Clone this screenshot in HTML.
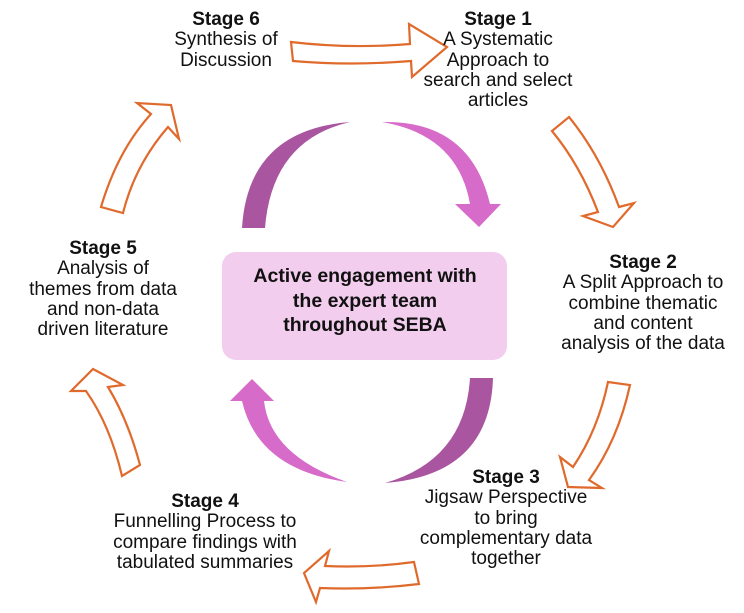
<!DOCTYPE html>
<html><head><style>
body{margin:0;width:744px;height:613px;background:#fff;position:relative;overflow:hidden;font-family:"Liberation Sans",sans-serif;}
.t{position:absolute;text-align:center;font-size:19px;line-height:20.3px;color:#111;white-space:nowrap;transform:translateX(-50%);}
.t b{font-size:19px;}
</style></head><body>
<svg width="744" height="613" style="position:absolute;left:0;top:0">
<g fill="#fff" stroke="#e06a2c" stroke-width="2.2" stroke-linejoin="miter">
<path d="M291,42 Q350,49 410,44 L409,24 L447,47 L412,77 L411,61 Q350,66 293,61 Z"/>
<path d="M552,131 L569,117 Q600,155 619,207 L634,203 L613,227 L583,216 L598,212 Q580,165 552,131 Z"/>
<path d="M608,382 L630,385 Q618,440 589,480 L602,488 L568,487 L560,457 L573,467 Q598,430 608,382 Z"/>
<path d="M414,562 L419,584 Q370,590 320,588 L316,602 L304,573 L329,551 L325,566 Q370,568 414,562 Z"/>
<path d="M93,369 L123,385 L108,387 Q128,420 140,465 L122,476 Q110,425 86,391 L71,391 Z"/>
<path d="M101,207 Q118,150 151,114 L137,103 L171,105 L179,139 L168,127 Q135,165 123,213 Z"/>
</g>
<path d="M242,228 L265,228 Q272,140 350,122 Q248,130 242,228 Z" fill="#a9559f"/>
<path d="M382,122 Q458,135 470,204 L455,204 L479,227 L501,204 L490,204 Q470,120 382,122 Z" fill="#d66bc9"/>
<path d="M470,378 L493,378 Q490,475 385,483 Q465,460 470,378 Z" fill="#a9559f"/>
<path d="M252,379 L230,401 L242,401 Q258,470 347,482 Q270,455 264,401 L274,401 Z" fill="#d66bc9"/>
<rect x="222" y="252" width="285" height="108" rx="14" fill="#f2cdee"/>
</svg>
<div class="t" style="left:365px;top:264px;font-weight:bold;font-size:19.5px;line-height:24.5px">Active engagement with<br>the expert team<br>throughout SEBA</div>
<div class="t" style="left:498px;top:10px"><b>Stage 1</b><br>A Systematic<br>Approach to<br>search and select<br>articles</div>
<div class="t" style="left:226px;top:10px"><b>Stage 6</b><br>Synthesis of<br>Discussion</div>
<div class="t" style="left:643px;top:253px"><b>Stage 2</b><br>A Split Approach to<br>combine thematic<br>and content<br>analysis of the data</div>
<div class="t" style="left:103px;top:239px"><b>Stage 5</b><br>Analysis of<br>themes from data<br>and non-data<br>driven literature</div>
<div class="t" style="left:506px;top:468px"><b>Stage 3</b><br>Jigsaw Perspective<br>to bring<br>complementary data<br>together</div>
<div class="t" style="left:205px;top:492px"><b>Stage 4</b><br>Funnelling Process to<br>compare findings with<br>tabulated summaries</div>
</body></html>
